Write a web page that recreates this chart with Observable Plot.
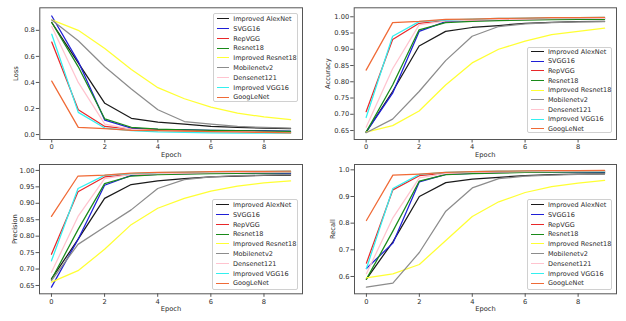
<!DOCTYPE html>
<html>
<head>
<meta charset="utf-8">
<script src="https://cdn.jsdelivr.net/npm/d3@7"></script>
<script src="https://cdn.jsdelivr.net/npm/@observablehq/plot@0.6"></script>
<style>
  html, body { margin: 0; padding: 0; background: white; }
  #root { position: relative; width: 626px; height: 321px; overflow: hidden; font-family: "DejaVu Sans", sans-serif; }
  .panel { position: absolute; }
  .legend { position: absolute; box-sizing: border-box; border: 1px solid #d0d0d0; border-radius: 2px; background: rgba(255,255,255,0.85); }
  .legend .sw { position: absolute; height: 0; }
  .legend .lb { position: absolute; font-size: 6.5px; line-height: 1; color: #2a2a2a; white-space: nowrap; transform: translateY(-50%); }
</style>
</head>
<body>
<div id="root"></div>
<script>
const models = ["Improved AlexNet", "SVGG16", "RepVGG", "Resnet18", "Improved Resnet18", "Mobilenetv2", "Densenet121", "Improved VGG16", "GoogLeNet"];
const colors = ["#1a1a1a", "#1f1fd6", "#e8282a", "#1a8a1a", "#ffff33", "#8c8c8c", "#ffc4cf", "#33f0f0", "#f06a36"];
const epochs = [0, 1, 2, 3, 4, 5, 6, 7, 8, 9];
const xTicks = [0, 2, 4, 6, 8];

// rows follow the order of `models`
const loss = [
  [0.86, 0.55, 0.24, 0.125, 0.095, 0.08, 0.062, 0.055, 0.05, 0.046],
  [0.91, 0.56, 0.11, 0.05, 0.04, 0.037, 0.032, 0.03, 0.03, 0.027],
  [0.71, 0.19, 0.062, 0.042, 0.035, 0.03, 0.025, 0.022, 0.02, 0.016],
  [0.86, 0.52, 0.12, 0.056, 0.042, 0.036, 0.032, 0.03, 0.027, 0.025],
  [0.88, 0.80, 0.66, 0.50, 0.36, 0.275, 0.21, 0.165, 0.135, 0.115],
  [0.88, 0.72, 0.52, 0.35, 0.19, 0.10, 0.08, 0.062, 0.055, 0.05],
  [0.83, 0.40, 0.08, 0.04, 0.03, 0.025, 0.022, 0.02, 0.017, 0.015],
  [0.77, 0.17, 0.05, 0.03, 0.02, 0.016, 0.013, 0.011, 0.01, 0.01],
  [0.41, 0.055, 0.045, 0.032, 0.03, 0.026, 0.022, 0.02, 0.016, 0.012]
];
const accuracy = [
  [0.645, 0.77, 0.91, 0.955, 0.967, 0.973, 0.98, 0.983, 0.985, 0.986],
  [0.645, 0.765, 0.955, 0.985, 0.988, 0.99, 0.992, 0.993, 0.994, 0.995],
  [0.708, 0.93, 0.98, 0.988, 0.99, 0.992, 0.993, 0.994, 0.995, 0.996],
  [0.645, 0.79, 0.96, 0.982, 0.986, 0.988, 0.99, 0.991, 0.992, 0.992],
  [0.645, 0.665, 0.71, 0.79, 0.858, 0.9, 0.925, 0.945, 0.955, 0.965],
  [0.643, 0.685, 0.77, 0.865, 0.94, 0.97, 0.978, 0.982, 0.984, 0.985],
  [0.66, 0.84, 0.975, 0.987, 0.99, 0.992, 0.993, 0.994, 0.995, 0.995],
  [0.69, 0.94, 0.985, 0.99, 0.993, 0.995, 0.996, 0.997, 0.997, 0.998],
  [0.836, 0.982, 0.986, 0.992, 0.993, 0.995, 0.996, 0.997, 0.997, 0.998]
];
const precision = [
  [0.67, 0.79, 0.915, 0.957, 0.968, 0.975, 0.98, 0.983, 0.985, 0.986],
  [0.645, 0.79, 0.955, 0.985, 0.988, 0.99, 0.992, 0.992, 0.992, 0.991],
  [0.745, 0.935, 0.98, 0.988, 0.99, 0.992, 0.993, 0.994, 0.995, 0.996],
  [0.668, 0.82, 0.96, 0.983, 0.987, 0.989, 0.99, 0.991, 0.992, 0.993],
  [0.66, 0.695, 0.76, 0.835, 0.885, 0.915, 0.937, 0.952, 0.962, 0.968],
  [0.665, 0.775, 0.828, 0.88, 0.945, 0.972, 0.98, 0.984, 0.986, 0.988],
  [0.69, 0.86, 0.975, 0.988, 0.99, 0.992, 0.993, 0.994, 0.995, 0.995],
  [0.725, 0.945, 0.985, 0.99, 0.993, 0.995, 0.996, 0.997, 0.997, 0.998],
  [0.86, 0.983, 0.986, 0.992, 0.994, 0.995, 0.996, 0.997, 0.997, 0.998]
];
const recall = [
  [0.59, 0.73, 0.90, 0.952, 0.965, 0.972, 0.978, 0.982, 0.984, 0.985],
  [0.63, 0.725, 0.955, 0.983, 0.987, 0.99, 0.992, 0.992, 0.991, 0.99],
  [0.65, 0.925, 0.978, 0.988, 0.99, 0.992, 0.993, 0.994, 0.995, 0.995],
  [0.59, 0.77, 0.958, 0.982, 0.986, 0.988, 0.99, 0.991, 0.992, 0.992],
  [0.595, 0.61, 0.645, 0.735, 0.825, 0.88, 0.915, 0.937, 0.95, 0.96],
  [0.56, 0.575, 0.69, 0.845, 0.932, 0.967, 0.976, 0.98, 0.983, 0.985],
  [0.61, 0.82, 0.97, 0.987, 0.99, 0.992, 0.993, 0.994, 0.995, 0.995],
  [0.63, 0.93, 0.983, 0.99, 0.993, 0.995, 0.996, 0.997, 0.997, 0.997],
  [0.81, 0.98, 0.984, 0.99, 0.993, 0.995, 0.996, 0.997, 0.997, 0.998]
];

const lossTicks = [0, 0.2, 0.4, 0.6, 0.8];
const accTicks = [0.65, 0.70, 0.75, 0.80, 0.85, 0.90, 0.95, 1.00];
const precTicks = [0.65, 0.70, 0.75, 0.80, 0.85, 0.90, 0.95, 1.00];
const recallTicks = [0.6, 0.7, 0.8, 0.9, 1.0];

function toRows(matrix) {
  const rows = [];
  models.forEach((m, i) => epochs.forEach((e, j) => rows.push({model: m, epoch: e, value: matrix[i][j]})));
  return rows;
}

const panels = [
  {values: loss, label: "Loss", ticks: lossTicks, fmt: ".1f", domain: [-0.038, 0.973], left: 0, top: 0, h: 160,
   m: {l: 39.3, r: 11, t: 7.3, b: 21}, labelOffset: 27,
   legend: {x: 212.7, y: 13, w: 85, h: 88.7, first: 19, step: 9.8}},
  {values: accuracy, label: "Accuracy", ticks: accTicks, fmt: ".2f", domain: [0.6224, 1.0276], left: 313, top: 0, h: 160,
   m: {l: 40.7, r: 10, t: 7.3, b: 21}, labelOffset: 29,
   legend: {x: 527.3, y: 46.7, w: 84.7, h: 86.6, first: 51.7, step: 9.67}},
  {values: precision, label: "Precision", ticks: precTicks, fmt: ".2f", domain: [0.6247, 1.018], left: 0, top: 160, h: 161,
   m: {l: 39, r: 11, t: 4, b: 27.7}, labelOffset: 27.7,
   legend: {x: 212.3, y: 199.3, w: 86, h: 90.7, first: 205, step: 9.8}},
  {values: recall, label: "Recall", ticks: recallTicks, fmt: ".1f", domain: [0.535, 1.02], left: 313, top: 160, h: 161,
   m: {l: 41, r: 10, t: 4, b: 27.7}, labelOffset: 24,
   legend: {x: 527.3, y: 199.3, w: 85, h: 90.7, first: 205, step: 9.8}}
];

const root = document.getElementById("root");

for (const p of panels) {
  const chart = Plot.plot({
    width: 313,
    height: p.h,
    marginLeft: p.m.l, marginRight: p.m.r, marginTop: p.m.t, marginBottom: p.m.b,
    style: {fontFamily: "DejaVu Sans, sans-serif", fontSize: "6.7px", color: "#2a2a2a", background: "white", overflow: "visible"},
    x: {domain: [-0.45, 9.45]},
    y: {domain: p.domain},
    color: {domain: models, range: colors},
    marks: [
      Plot.axisX({ticks: xTicks, tickSize: 3.5, tickPadding: 1.5, stroke: "#555",
                  label: "Epoch", labelAnchor: "center", labelArrow: "none", labelOffset: 17.5}),
      Plot.axisY({ticks: p.ticks, tickFormat: d3.format(p.fmt), tickSize: 3.5, tickPadding: 1.5, stroke: "#555",
                  label: p.label, labelAnchor: "center", labelArrow: "none", labelOffset: p.labelOffset}),
      Plot.line(toRows(p.values), {x: "epoch", y: "value", z: "model", stroke: "model", strokeWidth: 1.25}),
      Plot.frame({stroke: "#555", strokeWidth: 1})
    ]
  });
  const wrap = document.createElement("div");
  wrap.className = "panel";
  wrap.style.left = p.left + "px";
  wrap.style.top = p.top + "px";
  wrap.appendChild(chart);
  root.appendChild(wrap);

  const L = p.legend;
  const box = document.createElement("div");
  box.className = "legend";
  box.style.left = L.x + "px";
  box.style.top = L.y + "px";
  box.style.width = L.w + "px";
  box.style.height = L.h + "px";
  models.forEach((m, i) => {
    const cy = L.first + i * L.step - L.y - 1;
    const sw = document.createElement("div");
    sw.className = "sw";
    sw.style.left = "3px";
    sw.style.width = "12.7px";
    sw.style.top = (cy - 0.75) + "px";
    sw.style.borderTop = "1.5px solid " + colors[i];
    box.appendChild(sw);
    const lb = document.createElement("div");
    lb.className = "lb";
    lb.style.left = "19.6px";
    lb.style.top = cy + "px";
    lb.textContent = m;
    box.appendChild(lb);
  });
  root.appendChild(box);
}
</script>
</body>
</html>
